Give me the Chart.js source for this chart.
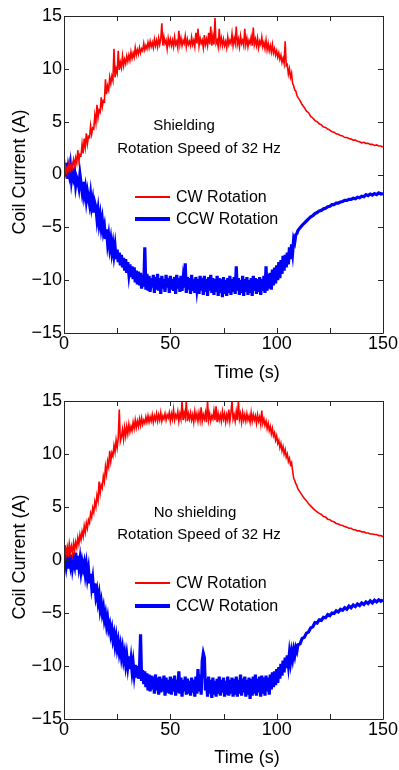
<!DOCTYPE html>
<html>
<head>
<meta charset="utf-8">
<script src="https://cdn.jsdelivr.net/npm/chart.js@4.4.1/dist/chart.umd.min.js"></script>
<style>
  html, body { margin: 0; padding: 0; background: #fff; }
  #wrap { position: relative; width: 399px; height: 770px; overflow: hidden;
          font-family: "Liberation Sans", Arial, sans-serif; color: #000; }
  .panel { position: absolute; left: 0; width: 399px; height: 385px; }
  .txt { position: absolute; white-space: nowrap; line-height: 1; transform: translate(-50%, -50%); }
  .ytitle { position: absolute; white-space: nowrap; line-height: 1; font-size: 18px;
            transform: translate(-50%, -50%) rotate(-90deg); }
  .xtitle { font-size: 18px; }
  .note { font-size: 15px; }
  .leg-line { position: absolute; left: 135px; width: 35px; }
  .leg-txt { position: absolute; left: 176px; font-size: 16px; line-height: 1; transform: translateY(-50%); white-space: nowrap; }
</style>
</head>
<body>
<div id="wrap">
  <div class="panel" style="top:0"><canvas id="topChart" width="399" height="385"></canvas></div>
  <div class="panel" style="top:385px"><canvas id="bottomChart" width="399" height="385"></canvas></div>

  <!-- top panel text -->
  <div class="ytitle" style="left:19px; top:172px">Coil Current (A)</div>
  <div class="txt xtitle" style="left:247px; top:372px">Time (s)</div>
  <div class="txt note" style="left:184px; top:124px">Shielding</div>
  <div class="txt note" style="left:199px; top:147px">Rotation Speed of 32 Hz</div>
  <div class="leg-line" style="top:196px; height:2px; background:#ff0000"></div>
  <div class="leg-txt" style="top:197px">CW Rotation</div>
  <div class="leg-line" style="top:217px; height:4px; background:#0000ff"></div>
  <div class="leg-txt" style="top:219px">CCW Rotation</div>

  <!-- bottom panel text -->
  <div class="ytitle" style="left:19px; top:557px">Coil Current (A)</div>
  <div class="txt xtitle" style="left:247px; top:757px">Time (s)</div>
  <div class="txt note" style="left:195px; top:511px">No shielding</div>
  <div class="txt note" style="left:199px; top:533px">Rotation Speed of 32 Hz</div>
  <div class="leg-line" style="top:582px; height:2px; background:#ff0000"></div>
  <div class="leg-txt" style="top:583px">CW Rotation</div>
  <div class="leg-line" style="top:604px; height:4px; background:#0000ff"></div>
  <div class="leg-txt" style="top:606px">CCW Rotation</div>
</div>

<script>
// ── Data ───────────────────────────────────────────────────────
// 0.5 s steps through the noisy part (0-110 s), 1 s steps in the decay tail
const TIME = [
  0, 0.5, 1, 1.5, 2, 2.5, 3, 3.5, 4, 4.5,
  5, 5.5, 6, 6.5, 7, 7.5, 8, 8.5, 9, 9.5,
  10, 10.5, 11, 11.5, 12, 12.5, 13, 13.5, 14, 14.5,
  15, 15.5, 16, 16.5, 17, 17.5, 18, 18.5, 19, 19.5,
  20, 20.5, 21, 21.5, 22, 22.5, 23, 23.5, 24, 24.5,
  25, 25.5, 26, 26.5, 27, 27.5, 28, 28.5, 29, 29.5,
  30, 30.5, 31, 31.5, 32, 32.5, 33, 33.5, 34, 34.5,
  35, 35.5, 36, 36.5, 37, 37.5, 38, 38.5, 39, 39.5,
  40, 40.5, 41, 41.5, 42, 42.5, 43, 43.5, 44, 44.5,
  45, 45.5, 46, 46.5, 47, 47.5, 48, 48.5, 49, 49.5,
  50, 50.5, 51, 51.5, 52, 52.5, 53, 53.5, 54, 54.5,
  55, 55.5, 56, 56.5, 57, 57.5, 58, 58.5, 59, 59.5,
  60, 60.5, 61, 61.5, 62, 62.5, 63, 63.5, 64, 64.5,
  65, 65.5, 66, 66.5, 67, 67.5, 68, 68.5, 69, 69.5,
  70, 70.5, 71, 71.5, 72, 72.5, 73, 73.5, 74, 74.5,
  75, 75.5, 76, 76.5, 77, 77.5, 78, 78.5, 79, 79.5,
  80, 80.5, 81, 81.5, 82, 82.5, 83, 83.5, 84, 84.5,
  85, 85.5, 86, 86.5, 87, 87.5, 88, 88.5, 89, 89.5,
  90, 90.5, 91, 91.5, 92, 92.5, 93, 93.5, 94, 94.5,
  95, 95.5, 96, 96.5, 97, 97.5, 98, 98.5, 99, 99.5,
  100, 100.5, 101, 101.5, 102, 102.5, 103, 103.5, 104, 104.5,
  105, 105.5, 106, 106.5, 107, 107.5, 108, 108.5, 109, 109.5,
  110,
  111, 112, 113, 114, 115, 116, 117, 118, 119,
  120, 121, 122, 123, 124, 125, 126, 127, 128, 129,
  130, 131, 132, 133, 134, 135, 136, 137, 138, 139,
  140, 141, 142, 143, 144, 145, 146, 147, 148, 149,
  150,
];

// Shielding
const CW_SHIELD = [
  0.2, 0.9, 0.1, 0.7, 0.4, 1.2, 0.5, 0.9, 0.6, 1.4,
  0.9, 1.6, 1.1, 2.3, 1.3, 1.9, 1.8, 2.9, 2.0, 3.4,
  2.6, 3.9, 2.9, 3.6, 3.5, 4.6, 3.8, 4.4, 4.3, 5.6,
  4.9, 6.6, 5.4, 6.1, 5.9, 7.3, 6.4, 7.0, 6.9, 9.0,
  7.6, 8.4, 8.0, 9.2, 8.6, 9.3, 8.9, 11.9, 9.2, 10.0,
  9.6, 11.7, 9.9, 10.6, 10.1, 11.2, 10.3, 10.9, 10.5, 11.2,
  10.7, 11.3, 10.8, 11.6, 11.0, 11.5, 11.1, 12.0, 11.3, 11.8,
  11.4, 12.0, 11.5, 11.9, 11.7, 12.4, 11.8, 12.2, 11.9, 12.5,
  12.0, 12.6, 12.1, 12.5, 12.0, 12.8, 12.2, 12.7, 12.1, 12.9,
  12.3, 12.8, 14.3, 12.2, 13.0, 12.4, 12.7, 11.9, 12.9, 12.3,
  12.8, 12.2, 12.7, 12.1, 13.0, 12.3, 12.6, 12.0, 13.6, 12.3,
  12.9, 12.2, 12.7, 12.4, 13.1, 12.1, 12.8, 12.3, 12.6, 12.2,
  13.0, 12.3, 12.7, 12.1, 13.4, 12.4, 13.8, 12.2, 12.9, 12.4,
  12.7, 12.0, 13.2, 12.3, 12.8, 12.2, 13.4, 12.3, 14.0, 12.2,
  13.1, 12.3, 14.8, 12.4, 12.7, 12.1, 13.8, 12.3, 12.9, 12.2,
  12.8, 12.2, 12.6, 12.0, 13.0, 12.3, 12.7, 12.4, 13.3, 12.2,
  12.9, 12.4, 14.0, 12.3, 12.8, 12.1, 13.1, 12.4, 12.7, 12.2,
  13.8, 12.3, 12.9, 12.1, 12.7, 12.4, 13.0, 12.2, 13.9, 12.3,
  12.8, 12.2, 12.9, 12.0, 12.6, 12.3, 13.0, 12.1, 12.5, 11.9,
  12.7, 11.8, 12.4, 11.7, 12.2, 11.6, 12.3, 11.5, 11.9, 11.3,
  11.7, 11.1, 11.5, 10.9, 11.3, 10.6, 11.0, 10.5, 12.6, 10.3,
  10.4, 9.5, 10.0, 9.2, 9.6, 8.6, 8.4, 8.0, 7.9, 7.5,
  7.3,
  7.0, 6.6, 6.35, 6.0, 5.85, 5.5, 5.35, 5.1, 5.0,
  4.8, 4.7, 4.5, 4.45, 4.3, 4.2, 4.05, 4.0, 3.85, 3.8,
  3.7, 3.65, 3.5, 3.5, 3.4, 3.35, 3.25, 3.25, 3.15, 3.1,
  3.0, 3.05, 2.95, 2.95, 2.85, 2.85, 2.75, 2.8, 2.7, 2.7,
  2.6,
];
const CCW_SHIELD = [
  0.9, -0.2, 1.1, -0.4, 0.6, 0.0, 0.8, -0.5, 0.3, -0.3,
  0.2, -1.0, -0.3, -0.6, -1.2, 0.0, -0.8, -1.6, -0.7, -1.9,
  -1.3, -2.4, -1.6, -2.2, -2.8, -1.9, -3.0, -2.4, -3.6, -2.7,
  -3.1, -4.2, -3.4, -4.6, -3.9, -5.0, -4.3, -5.4, -4.9, -6.1,
  -5.2, -6.5, -5.8, -6.9, -6.2, -7.3, -6.6, -7.6, -6.8, -8.0,
  -7.1, -8.3, -7.4, -8.6, -7.6, -8.8, -7.9, -9.1, -8.0, -9.3,
  -8.3, -9.4, -8.5, -9.7, -8.7, -9.9, -8.8, -10.2, -9.1, -10.4,
  -9.2, -10.5, -9.3, -10.8, -9.5, -10.6, -6.9, -10.9, -9.4, -11.0,
  -9.6, -11.1, -9.8, -10.7, -9.5, -11.2, -9.7, -10.9, -9.4, -11.0,
  -9.8, -11.3, -9.6, -10.8, -9.9, -11.1, -9.5, -10.7, -9.8, -11.2,
  -9.6, -10.9, -9.9, -11.0, -9.7, -11.3, -9.5, -10.8, -9.8, -11.1,
  -9.6, -11.0, -9.9, -10.7, -8.4, -11.2, -9.7, -10.9, -9.8, -11.3,
  -9.5, -11.0, -9.9, -11.2, -9.7, -10.8, -9.9, -11.3, -9.6, -11.0,
  -9.8, -11.4, -9.6, -11.1, -9.9, -11.5, -9.7, -11.0, -9.5, -11.2,
  -9.8, -11.4, -9.9, -11.1, -9.6, -11.5, -9.8, -11.2, -9.9, -11.6,
  -9.7, -11.3, -10.0, -11.5, -9.8, -11.2, -9.6, -11.4, -9.9, -11.1,
  -9.7, -11.3, -8.7, -11.0, -9.8, -11.4, -10.0, -11.2, -9.6, -11.5,
  -9.9, -11.1, -9.7, -11.4, -10.0, -11.2, -9.8, -11.5, -9.6, -11.0,
  -9.8, -11.3, -9.9, -11.1, -9.7, -11.4, -9.9, -11.0, -9.6, -11.2,
  -8.7, -11.0, -9.4, -10.8, -9.3, -10.9, -9.0, -10.5, -8.8, -10.3,
  -8.6, -10.0, -8.3, -9.8, -8.1, -9.4, -7.7, -9.1, -7.6, -8.8,
  -7.4, -8.5, -6.9, -8.0, -6.6, -7.4, -6.1, -6.4, -5.7, -5.6,
  -5.3,
  -5.05, -4.8, -4.6, -4.4, -4.2, -4.0, -3.9, -3.7, -3.6,
  -3.45, -3.4, -3.25, -3.2, -3.05, -3.0, -2.85, -2.85, -2.7, -2.7,
  -2.6, -2.55, -2.45, -2.45, -2.35, -2.35, -2.25, -2.3, -2.15, -2.2,
  -2.05, -2.1, -1.9, -2.0, -1.85, -1.95, -1.8, -1.9, -1.75, -1.85,
  -1.8,
];

// No shielding
const CW_NOSHIELD = [
  0.1, 1.4, 0.5, 1.2, 0.3, 1.5, 0.7, 1.3, 0.6, 1.6,
  0.9, 1.7, 1.2, 2.1, 1.5, 2.4, 1.9, 2.7, 2.2, 3.2,
  2.6, 3.5, 3.0, 3.8, 3.5, 4.4, 4.0, 4.9, 4.5, 5.5,
  5.0, 6.1, 5.6, 7.4, 6.3, 7.1, 6.8, 7.9, 7.4, 8.8,
  8.1, 9.3, 8.8, 10.3, 9.3, 10.1, 9.8, 10.8, 10.2, 11.3,
  10.6, 11.5, 14.2, 11.2, 11.6, 12.3, 11.4, 12.5, 11.7, 12.6,
  11.9, 12.8, 12.1, 12.6, 12.2, 13.0, 12.4, 13.2, 12.5, 13.1,
  12.6, 13.3, 12.7, 13.4, 12.8, 13.2, 12.9, 13.5, 13.0, 13.6,
  13.0, 13.5, 13.1, 13.7, 13.0, 13.6, 13.2, 13.8, 13.1, 13.7,
  13.2, 13.9, 13.1, 13.6, 13.3, 13.8, 13.2, 13.7, 13.4, 13.9,
  13.1, 13.8, 13.3, 14.2, 13.2, 13.7, 13.4, 14.0, 13.1, 13.8,
  13.3, 15.0, 13.2, 13.9, 13.4, 15.0, 13.1, 13.8, 13.3, 13.9,
  13.2, 13.7, 13.0, 14.0, 13.3, 13.8, 13.1, 13.9, 13.2, 14.4,
  13.1, 13.7, 13.3, 13.9, 13.0, 15.0, 13.2, 13.8, 13.1, 13.6,
  13.3, 14.1, 13.2, 14.5, 13.0, 13.8, 13.2, 13.7, 13.1, 14.0,
  13.3, 13.8, 13.0, 13.7, 13.2, 14.2, 13.1, 13.9, 15.0, 13.3,
  13.7, 13.1, 14.0, 13.2, 15.0, 13.3, 13.8, 13.0, 13.9, 13.2,
  13.7, 13.1, 13.8, 13.2, 13.6, 13.0, 13.9, 13.1, 13.7, 13.2,
  13.6, 12.9, 13.7, 13.1, 13.5, 12.8, 14.1, 12.9, 13.3, 12.7,
  13.1, 12.4, 12.9, 12.2, 12.6, 11.9, 12.4, 11.7, 12.0, 11.3,
  11.7, 11.0, 11.3, 10.6, 11.0, 10.3, 10.7, 10.0, 10.4, 9.7,
  10.0, 9.3, 9.6, 9.0, 9.2, 8.4, 7.7, 7.5, 7.2, 7.0,
  6.7,
  6.4, 6.1, 5.8, 5.6, 5.3, 5.1, 4.9, 4.7, 4.55,
  4.4, 4.3, 4.1, 4.05, 3.85, 3.8, 3.65, 3.6, 3.45, 3.4,
  3.3, 3.25, 3.15, 3.1, 3.0, 3.0, 2.85, 2.85, 2.75, 2.75,
  2.65, 2.65, 2.55, 2.55, 2.45, 2.45, 2.4, 2.4, 2.3, 2.3,
  2.2,
];
const CCW_NOSHIELD = [
  -0.3, 0.1, -0.6, 0.2, -0.8, 0.3, -0.4, 0.5, -0.7, 0.0,
  -0.5, 0.7, -0.9, 0.4, -0.6, 0.1, -1.0, -0.2, -0.8, -0.3,
  -1.3, -0.5, -1.6, -0.9, -2.2, -1.3, -2.5, -1.8, -3.1, -2.2,
  -3.4, -2.9, -3.9, -3.3, -4.6, -4.0, -5.0, -4.5, -5.6, -5.1,
  -6.1, -5.5, -6.5, -6.1, -7.0, -6.5, -7.5, -7.0, -8.0, -7.3,
  -8.3, -7.7, -8.7, -8.1, -9.1, -8.4, -9.4, -8.8, -9.8, -9.0,
  -10.0, -9.1, -10.3, -9.4, -10.5, -9.7, -10.8, -9.9, -11.1, -10.0,
  -11.2, -10.2, -7.0, -11.4, -10.4, -11.7, -10.5, -12.0, -10.7, -12.3,
  -10.8, -12.4, -10.9, -12.2, -11.0, -12.6, -10.8, -12.3, -11.1, -12.7,
  -11.0, -12.5, -11.2, -12.4, -10.9, -12.8, -11.1, -12.5, -11.3, -12.6,
  -11.0, -12.7, -11.2, -12.4, -10.9, -12.8, -11.3, -12.5, -10.5, -12.6,
  -11.1, -12.9, -11.3, -12.4, -11.0, -12.7, -11.2, -12.6, -11.4, -12.8,
  -11.1, -12.5, -11.3, -12.9, -11.0, -12.6, -10.3, -12.4, -10.8, -12.7,
  -9.5, -8.8, -9.2, -12.3, -11.2, -12.9, -11.0, -12.6, -11.3, -13.0,
  -11.1, -12.7, -11.4, -12.9, -11.2, -12.6, -11.0, -12.8, -11.3, -12.5,
  -11.1, -12.9, -11.4, -12.7, -11.0, -12.8, -11.3, -12.6, -11.1, -12.9,
  -11.2, -12.7, -11.0, -12.9, -11.3, -12.6, -10.8, -12.8, -11.2, -12.5,
  -11.0, -12.9, -11.3, -12.7, -11.1, -13.1, -11.2, -12.8, -11.0, -12.6,
  -10.8, -12.8, -11.2, -12.5, -11.0, -12.9, -10.9, -12.6, -11.1, -12.8,
  -10.9, -12.4, -11.1, -12.7, -10.8, -12.2, -10.6, -12.0, -10.5, -11.8,
  -10.3, -11.6, -10.1, -11.2, -9.8, -10.9, -9.5, -10.6, -9.2, -10.2,
  -9.0, -9.9, -8.8, -9.6, -8.7, -9.3, -8.5, -9.0, -8.3, -8.6,
  -8.0,
  -7.9, -7.4, -7.3, -6.9, -6.8, -6.4, -6.3, -5.9, -5.95,
  -5.65, -5.7, -5.4, -5.45, -5.15, -5.25, -5.0, -5.05, -4.8, -4.9,
  -4.65, -4.75, -4.5, -4.65, -4.35, -4.5, -4.25, -4.4, -4.15, -4.3,
  -4.05, -4.2, -3.95, -4.1, -3.85, -4.05, -3.8, -3.95, -3.75, -3.9,
  -3.75,
];

const X_LABELED = [0, 50, 100, 150];   // minor ticks at 25/75/125 carry no label
const CW_COLOR  = '#ff0000';
const CCW_COLOR = '#0000ff';
const FONT = '"Liberation Sans", Arial, sans-serif';

// ── Box + inward tick marks (Matlab style) ─────────────────────
const boxTicks = {
  id: 'boxTicks',
  afterDatasetsDraw(chart) {
    const { ctx, chartArea: a, scales: { x, y } } = chart;
    ctx.save();
    ctx.strokeStyle = '#262626';
    ctx.lineWidth = 1;
    ctx.beginPath();
    ctx.rect(Math.round(a.left) + 0.5, Math.round(a.top) + 0.5,
             Math.round(a.right - a.left), Math.round(a.bottom - a.top));
    x.ticks.forEach(t => {
      const px = Math.round(x.getPixelForValue(t.value)) + 0.5;
      ctx.moveTo(px, a.bottom); ctx.lineTo(px, a.bottom - 5);
      ctx.moveTo(px, a.top);    ctx.lineTo(px, a.top + 5);
    });
    y.ticks.forEach(t => {
      const py = Math.round(y.getPixelForValue(t.value)) + 0.5;
      ctx.moveTo(a.left, py);  ctx.lineTo(a.left + 5, py);
      ctx.moveTo(a.right, py); ctx.lineTo(a.right - 5, py);
    });
    ctx.stroke();
    ctx.restore();
  }
};

function makeChart(id, cw, ccw, xHeight) {
  const ctx = document.getElementById(id).getContext('2d');
  return new Chart(ctx, {
    type: 'line',
    data: {
      labels: TIME,
      datasets: [
        { label: 'CW Rotation',  data: cw,  borderColor: CW_COLOR,  borderWidth: 1.6 },
        { label: 'CCW Rotation', data: ccw, borderColor: CCW_COLOR, borderWidth: 3.2 },
      ],
    },
    options: {
      responsive: false,
      animation: false,
      devicePixelRatio: 1,
      elements: { point: { radius: 0 }, line: { tension: 0 } },
      layout: { padding: { left: 0, right: 16, top: 16, bottom: 0 } },
      plugins: { legend: { display: false }, tooltip: { enabled: false } },
      scales: {
        x: {
          type: 'linear',
          min: 0, max: 150,
          grid: { display: false, drawTicks: false },
          border: { display: false },
          ticks: {
            stepSize: 25,
            autoSkip: false,
            maxRotation: 0,
            padding: 0,
            color: '#000',
            font: { family: FONT, size: 18 },
            callback: v => X_LABELED.includes(v) ? String(v) : '',
          },
          afterFit: s => { s.height = xHeight; s.paddingLeft = 0; s.paddingRight = 0; },
        },
        y: {
          min: -15, max: 15,
          grid: { display: false, drawTicks: false },
          border: { display: false },
          ticks: {
            stepSize: 5,
            padding: 2,
            color: '#000',
            font: { family: FONT, size: 18 },
            callback: v => v < 0 ? '\u2212' + Math.abs(v) : String(v),
          },
          afterFit: s => { s.width = 64; s.paddingTop = 0; s.paddingBottom = 0; },
        },
      },
    },
    plugins: [boxTicks],
  });
}

makeChart('topChart', CW_SHIELD, CCW_SHIELD, 52);
makeChart('bottomChart', CW_NOSHIELD, CCW_NOSHIELD, 51);
</script>
</body>
</html>
